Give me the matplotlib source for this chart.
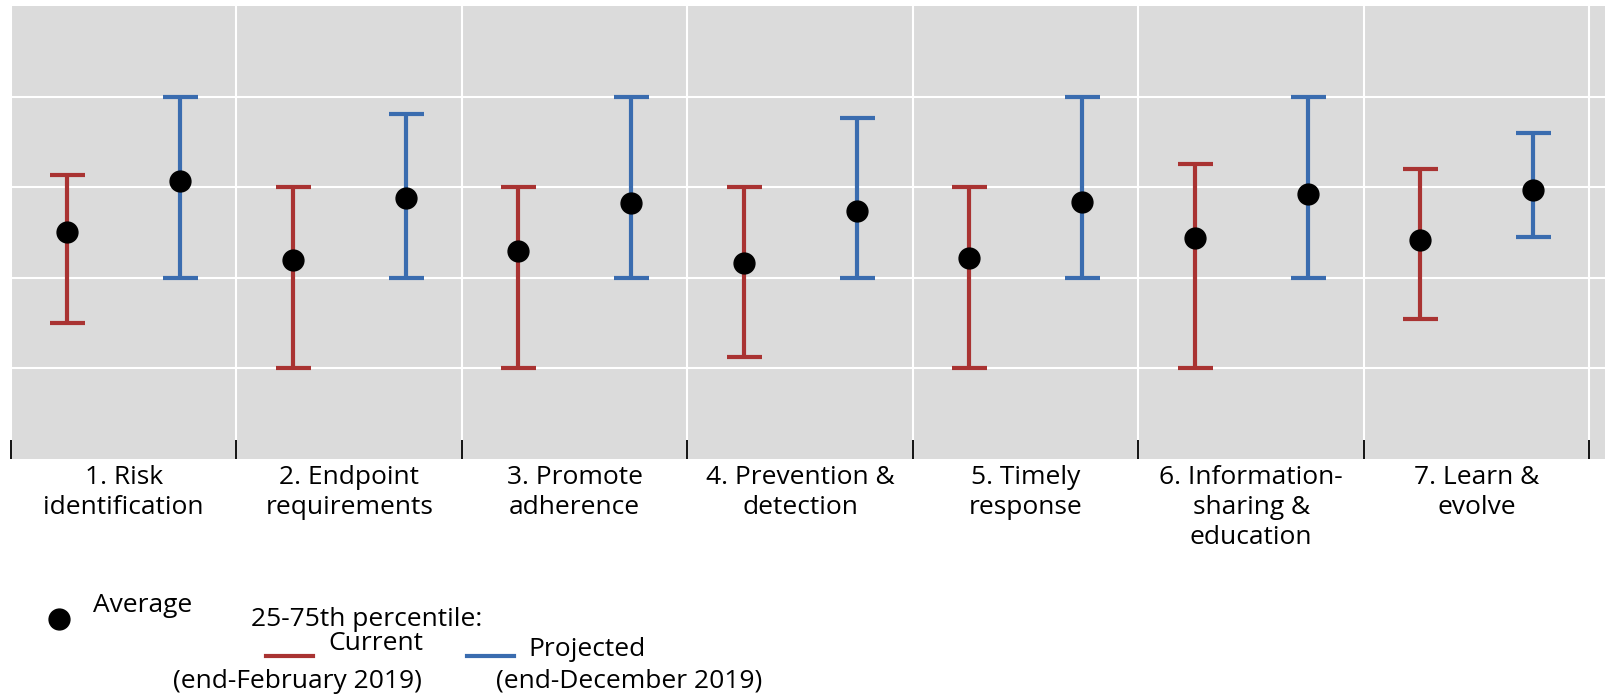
import numpy as np
import matplotlib.pyplot as plt
from matplotlib.lines import Line2D

plt.rcParams['font.family'] = ['Open Sans', 'DejaVu Sans']

categories = ['1. Risk\nidentification', '2. Endpoint\nrequirements', '3. Promote\nadherence',
              '4. Prevention &\ndetection', '5. Timely\nresponse', '6. Information-\nsharing &\neducation',
              '7. Learn &\nevolve']

# current (end-February 2019)
cur_avg = [2.50, 2.20, 2.30, 2.16, 2.22, 2.44, 2.42]
cur_lo = [1.50, 1.00, 1.00, 1.13, 1.00, 1.00, 1.55]
cur_hi = [3.13, 3.00, 3.00, 3.00, 3.00, 3.26, 3.20]

# projected (end-December 2019)
proj_avg = [3.07, 2.88, 2.83, 2.74, 2.84, 2.93, 2.97]
proj_lo = [2.00, 2.00, 2.00, 2.00, 2.00, 2.00, 2.45]
proj_hi = [4.00, 3.81, 4.00, 3.76, 4.00, 4.00, 3.60]

red = '#a93332'
blue = '#3a6caf'
bg = '#dbdbdb'
fs = 19

W, H = 1606, 697
fig = plt.figure(figsize=(W / 100, H / 100), dpi=100)
ax = fig.add_axes([11 / W, (H - 459) / H, (W - 11) / W, (459 - 6) / H])
ax.set_facecolor(bg)
for s in ax.spines.values():
    s.set_visible(False)

n = len(categories)
x = np.arange(n)
xc = x + 0.25
xp = x + 0.75
cur_avg = np.array(cur_avg); proj_avg = np.array(proj_avg)

ax.errorbar(xc, cur_avg, yerr=[cur_avg - np.array(cur_lo), np.array(cur_hi) - cur_avg],
            fmt='none', ecolor=red, elinewidth=3, capsize=12.6, capthick=3, zorder=3)
ax.errorbar(xp, proj_avg, yerr=[proj_avg - np.array(proj_lo), np.array(proj_hi) - proj_avg],
            fmt='none', ecolor=blue, elinewidth=3, capsize=12.6, capthick=3, zorder=3)
ax.plot(xc, cur_avg, 'o', color='black', ms=15, zorder=4)
ax.plot(xp, proj_avg, 'o', color='black', ms=15, zorder=4)

ax.set_xlim(0, (W - 11) / 225.5)
ax.set_ylim(0, 5)
ax.set_yticks([1, 2, 3, 4])
ax.set_yticklabels([])
ax.tick_params(axis='y', length=0)
ax.set_xticks(np.arange(n + 1))
ax.set_xticklabels([])
ax.tick_params(axis='x', which='major', direction='in', length=14, width=1.3, color='black')
ax.set_xticks(x + 0.5, minor=True)
ax.set_xticklabels(categories, minor=True, fontsize=fs, linespacing=1.27)
ax.tick_params(axis='x', which='minor', length=0, pad=4)
ax.grid(True, which='major', color='white', lw=1.5)
ax.set_axisbelow(True)

# legend
def fx(px):
    return px / W

def fy(py):
    return 1 - py / H

fig.add_artist(Line2D([fx(59.4)], [fy(618.6)], marker='o', color='black', ms=15, lw=0))
fig.text(fx(93), fy(606), 'Average', fontsize=fs, va='center', ha='left')
fig.text(fx(251), fy(619), '25-75th percentile:', fontsize=fs, va='center', ha='left')
fig.add_artist(Line2D([fx(266), fx(313)], [fy(655.5), fy(655.5)], color=red, lw=3))
fig.text(fx(328), fy(644), 'Current', fontsize=fs, va='center', ha='left')
fig.text(fx(297), fy(681), '(end-February 2019)', fontsize=fs, va='center', ha='center')
fig.add_artist(Line2D([fx(467), fx(514)], [fy(656), fy(656)], color=blue, lw=3))
fig.text(fx(528), fy(650), 'Projected', fontsize=fs, va='center', ha='left')
fig.text(fx(629), fy(681), '(end-December 2019)', fontsize=fs, va='center', ha='center')

fig.savefig('out.png', dpi=100)
